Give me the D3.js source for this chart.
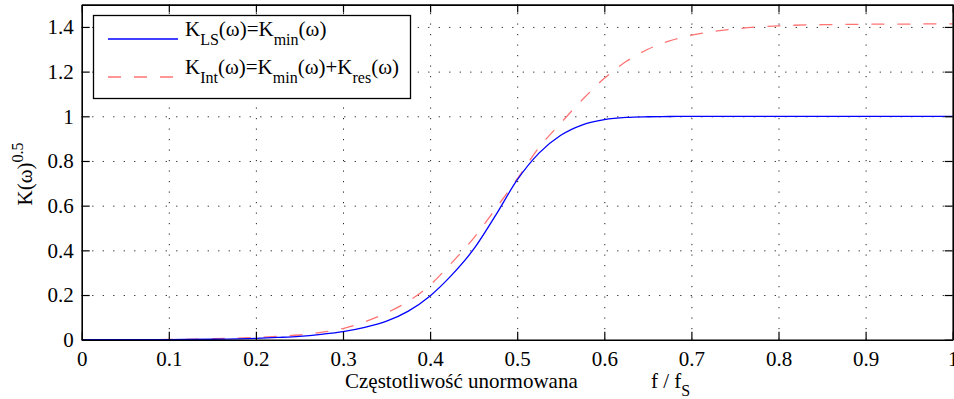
<!DOCTYPE html>
<html>
<head>
<meta charset="utf-8">
<script src="https://cdn.jsdelivr.net/npm/d3@7"></script>
<style>
  body { margin: 0; background: #fff; }
  svg, svg text { font-family: "Liberation Serif", Tinos, "DejaVu Serif", "Times New Roman", Times, serif; fill: #000; }
</style>
</head>
<body>
<script>
// values
const freq = [0, 0.05, 0.1, 0.15, 0.2, 0.225, 0.25, 0.275, 0.3, 0.325, 0.35, 0.375, 0.4, 0.425, 0.45, 0.475,
              0.5, 0.525, 0.55, 0.575, 0.6, 0.625, 0.65, 0.675, 0.7, 0.75, 0.8, 0.85, 0.9, 0.95, 1.0];
const kLS  = [0, 0, 0.0005, 0.002, 0.006, 0.01, 0.015, 0.024, 0.036, 0.055, 0.083, 0.128, 0.196, 0.29, 0.405, 0.555,
              0.715, 0.835, 0.915, 0.962, 0.985, 0.995, 0.998, 0.999, 1, 1, 1, 1, 1, 1, 1];
const kInt = [0, 0, 0.001, 0.004, 0.01, 0.015, 0.021, 0.033, 0.05, 0.08, 0.12, 0.172, 0.245, 0.345, 0.455, 0.585,
              0.72, 0.86, 0.97, 1.075, 1.17, 1.245, 1.3, 1.338, 1.363, 1.391, 1.405, 1.41, 1.412, 1.413, 1.414];
const xTicks = [0, 0.1, 0.2, 0.3, 0.4, 0.5, 0.6, 0.7, 0.8, 0.9, 1];
const yTicks = [0, 0.2, 0.4, 0.6, 0.8, 1, 1.2, 1.4];

const w = 954, h = 399;
const margin = {top: 4.6, right: 1.3, bottom: 59.3, left: 81.7};
const fs = 21, fsSub = 16;
const font = '"Liberation Serif", Tinos, "DejaVu Serif", "Times New Roman", Times, serif';

const svg = d3.select("body").append("svg")
  .attr("width", w)
  .attr("height", h)
  .attr("font-family", font);

const x = d3.scaleLinear().domain([0, 1]).range([margin.left, w - margin.right]);
const y = d3.scaleLinear().domain([0, 1.5]).range([h - margin.bottom, margin.top]);

// grid
svg.append("g")
  .attr("transform", `translate(0, ${h - margin.bottom})`)
  .call(d3.axisBottom(x).tickValues(xTicks.slice(1, -1)).tickSize(-(h - margin.top - margin.bottom)).tickFormat(""))
  .call(g => g.select(".domain").remove())
  .selectAll("line").attr("stroke", "#222").attr("stroke-dasharray", "1.2,9.3");

svg.append("g")
  .attr("transform", `translate(${margin.left}, 0)`)
  .call(d3.axisLeft(y).tickValues(yTicks.slice(1)).tickSize(-(w - margin.left - margin.right)).tickFormat(""))
  .call(g => g.select(".domain").remove())
  .selectAll("line").attr("stroke", "#222").attr("stroke-dasharray", "1.2,9.3");

// curves
const line = (vals) => d3.line()
  .x((d, i) => x(freq[i]))
  .y(d => y(d))
  .curve(d3.curveMonotoneX)(vals);

svg.append("path")
  .attr("d", line(kInt))
  .attr("fill", "none")
  .attr("stroke", "#ff7373")
  .attr("stroke-width", 1.3)
  .attr("stroke-dasharray", "13,13");

svg.append("path")
  .attr("d", line(kLS))
  .attr("fill", "none")
  .attr("stroke", "#0000ff")
  .attr("stroke-width", 1.3);

// axes with inward ticks
const tick = 8;
svg.append("g")
  .attr("transform", `translate(0, ${h - margin.bottom})`)
  .call(d3.axisBottom(x).tickValues(xTicks).tickSizeInner(-tick).tickSizeOuter(0).tickPadding(11).tickFormat(d3.format("")));
svg.append("g")
  .attr("transform", `translate(0, ${margin.top})`)
  .call(d3.axisTop(x).tickValues(xTicks).tickSizeInner(-tick).tickSizeOuter(0).tickFormat(""));
svg.append("g")
  .attr("transform", `translate(${margin.left}, 0)`)
  .call(d3.axisLeft(y).tickValues(yTicks).tickSizeInner(-tick).tickSizeOuter(0).tickPadding(8).tickFormat(d3.format("")));
svg.append("g")
  .attr("transform", `translate(${w - margin.right}, 0)`)
  .call(d3.axisRight(y).tickValues(yTicks).tickSizeInner(-tick).tickSizeOuter(0).tickFormat(""));

svg.selectAll("g").attr("font-family", font).attr("font-size", null);
svg.selectAll(".tick text").attr("font-size", fs).attr("font-family", font);
svg.selectAll(".domain").attr("stroke", "#000").attr("stroke-width", 1.6);
svg.selectAll(".tick line").filter(function() { return !this.getAttribute("stroke-dasharray"); })
  .attr("stroke", "#000").attr("stroke-width", 1.2);

// axis labels
const xl = svg.append("text").attr("y", 388).attr("font-size", fs).attr("font-family", font);
xl.append("tspan").attr("x", 345).text("Częstotliwość unormowana");
xl.append("tspan").attr("x", 651).text("f / f");
xl.append("tspan").attr("dy", 8).attr("font-size", fsSub).text("S");

const yl = svg.append("text")
  .attr("transform", "translate(32, 174) rotate(-90)")
  .attr("text-anchor", "middle")
  .attr("font-size", fs)
  .attr("font-family", font);
yl.append("tspan").text("K(ω)");
yl.append("tspan").attr("dy", -9).attr("font-size", fsSub).text("0.5");

// legend
const lg = svg.append("g");
lg.append("rect")
  .attr("x", 93.5).attr("y", 15.5).attr("width", 317).attr("height", 83)
  .attr("fill", "#fff").attr("stroke", "#000").attr("stroke-width", 1.3);

const legendRows = [
  {y: 39, color: "#0000ff", dash: null,
   parts: [["K", 0], ["LS", 1], ["(ω)=K", 0], ["min", 1], ["(ω)", 0]]},
  {y: 77, color: "#ff7373", dash: "13,13",
   parts: [["K", 0], ["Int", 1], ["(ω)=K", 0], ["min", 1], ["(ω)+K", 0], ["res", 1], ["(ω)", 0]]}
];

legendRows.forEach(r => {
  lg.append("line")
    .attr("x1", 108).attr("x2", 178).attr("y1", r.y).attr("y2", r.y)
    .attr("stroke", r.color).attr("stroke-width", 1.3)
    .attr("stroke-dasharray", r.dash);
  const t = lg.append("text").attr("x", 185).attr("y", r.y - 3).attr("font-size", fs).attr("font-family", font);
  let sub = 0;
  r.parts.forEach(p => {
    const dy = p[1] === sub ? 0 : (p[1] ? 9 : -9);
    sub = p[1];
    t.append("tspan").attr("dy", dy).attr("font-size", p[1] ? fsSub : fs).text(p[0]);
  });
});
</script>
</body>
</html>
